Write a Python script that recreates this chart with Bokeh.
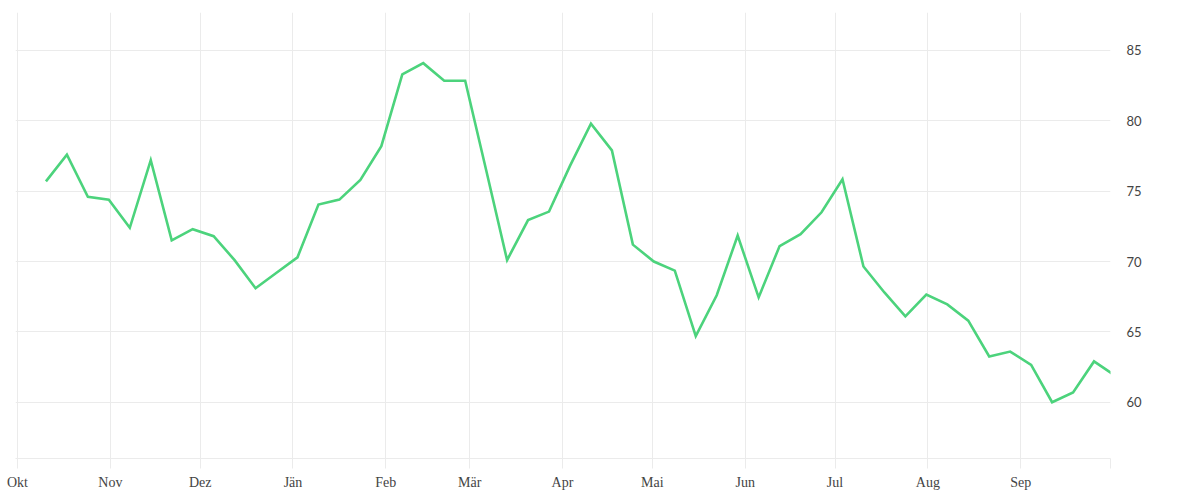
import pandas as pd
from bokeh.plotting import figure
from bokeh.models import Range1d, FixedTicker, CustomJSTickFormatter, ColumnDataSource
from bokeh.embed import file_html
from bokeh.resources import INLINE

# ---- data ----
WEEK_DATES = pd.date_range("2018-10-10 12:00", periods=52, freq="7D")
VALUES = [75.7, 77.6, 74.6, 74.4, 72.4, 77.2, 71.5, 72.3, 71.8, 70.1,
          68.1, 69.2, 70.3, 74.05, 74.4, 75.8, 78.2, 83.3, 84.1, 82.85,
          82.85, 76.5, 70.1, 72.95, 73.55, 76.8, 79.8, 77.9, 71.2, 70.0,
          69.35, 64.7, 67.6, 71.85, 67.45, 71.1, 71.95, 73.5, 75.85, 69.65,
          67.8, 66.1, 67.65, 66.95, 65.8, 63.25, 63.6, 62.65, 60.0, 60.7,
          62.9, 61.9]
MONTH_STARTS = ["2018-10-01", "2018-11-01", "2018-12-01", "2019-01-01",
                "2019-02-01", "2019-03-01", "2019-04-01", "2019-05-01",
                "2019-06-01", "2019-07-01", "2019-08-01", "2019-09-01",
                "2019-10-01"]
MONTH_LABELS = ["Jän", "Feb", "Mär", "Apr", "Mai", "Jun", "Jul", "Aug",
                "Sep", "Okt", "Nov", "Dez"]
Y_TICKS = [60, 65, 70, 75, 80, 85]

GRID = "#ebebeb"
LINE = "#4cd37c"

src = ColumnDataSource(dict(x=WEEK_DATES, y=VALUES))

x_start = pd.Timestamp(MONTH_STARTS[0]) - pd.Timedelta(hours=16)
x_end = pd.Timestamp(MONTH_STARTS[-1])
tick_ms = [pd.Timestamp(d).value / 1e6 for d in MONTH_STARTS]

p = figure(width=1192, height=492, x_axis_type="datetime",
           y_axis_location="right",
           x_range=Range1d(x_start, x_end), y_range=Range1d(56.0, 87.7),
           output_backend="svg", toolbar_location=None,
           min_border_left=15, min_border_right=82, min_border_top=12,
           min_border_bottom=34)
p.outline_line_color = None
p.background_fill_color = "white"
p.border_fill_color = "white"

p.line("x", "y", source=src, line_color=LINE, line_width=2.6,
       line_join="miter")

xa = p.xaxis[0]
xa.ticker = FixedTicker(ticks=tick_ms)
xa.formatter = CustomJSTickFormatter(
    args=dict(labels=MONTH_LABELS, end=tick_ms[-1]),
    code="if (tick >= end - 1) { return ''; } const d = new Date(tick); return labels[d.getUTCMonth()];")
xa.axis_line_color = GRID
xa.major_tick_line_color = GRID
xa.major_tick_out = 10
xa.major_tick_in = 0
xa.minor_tick_line_color = None
xa.major_label_standoff = 6
xa.major_label_text_font = "Liberation Serif"
xa.major_label_text_font_size = "14px"
xa.major_label_text_color = "#444444"

ya = p.yaxis[0]
ya.ticker = FixedTicker(ticks=Y_TICKS)
ya.axis_line_color = None
ya.major_tick_line_color = None
ya.minor_tick_line_color = None
ya.major_tick_out = 0
ya.major_tick_in = 0
ya.major_label_standoff = 16
ya.major_label_text_font = "Lato"
ya.major_label_text_font_size = "13px"
ya.major_label_text_color = "#444444"

p.xgrid.ticker = FixedTicker(ticks=tick_ms)
p.xgrid.grid_line_color = GRID
p.ygrid.ticker = FixedTicker(ticks=Y_TICKS)
p.ygrid.grid_line_color = GRID

open("out.html", "w").write(file_html(p, INLINE))
